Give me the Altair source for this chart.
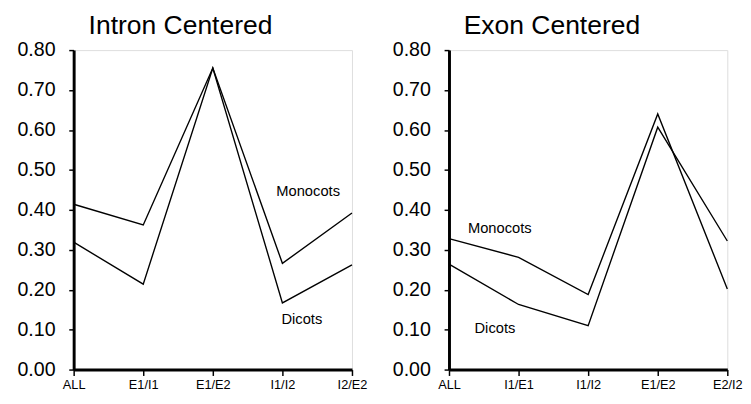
import json
import altair as alt
import pandas as pd

left_cats = ["ALL", "E1/I1", "E1/E2", "I1/I2", "I2/E2"]
left_mono = [0.414, 0.362, 0.755, 0.266, 0.392]
left_dicot = [0.319, 0.214, 0.755, 0.167, 0.262]

right_cats = ["ALL", "I1/E1", "I1/I2", "E1/E2", "E2/I2"]
right_mono = [0.328, 0.281, 0.188, 0.640, 0.202]
right_dicot = [0.264, 0.163, 0.110, 0.607, 0.322]

series_names = ["Monocots", "Dicots"]
left_label_x = [3.37, 3.28]
left_label_y = [0.446, 0.126]
right_label_x = [0.73, 0.66]
right_label_y = [0.355, 0.103]

y_ticks = [0.0, 0.1, 0.2, 0.3, 0.4, 0.5, 0.6, 0.7, 0.8]


def panel(title, title_dx, cats, mono, dicot, lx, ly):
    rows = []
    for i, c in enumerate(cats):
        rows.append({"idx": i, "cat": c, "series": "Monocots", "value": mono[i]})
        rows.append({"idx": i, "cat": c, "series": "Dicots", "value": dicot[i]})
    df = pd.DataFrame(rows)
    lab = pd.DataFrame({"x": lx, "y": ly, "text": series_names})
    expr = json.dumps(cats) + "[datum.value]"
    xs = alt.Scale(domain=[0, len(cats) - 1], nice=False, zero=False)
    ys = alt.Scale(domain=[0, 0.8], nice=False)
    x_axis = alt.Axis(values=list(range(len(cats))), labelExpr=expr, title=None,
                      grid=False, domain=True, domainColor="black", domainWidth=3,
                      tickColor="black", tickWidth=1.5, tickSize=6,
                      labelFontSize=13, labelColor="black", labelFont="Liberation Sans",
                      labelPadding=3, labelFlush=False)
    y_axis = alt.Axis(values=y_ticks, format=".2f", title=None, grid=False,
                      domain=True, domainColor="black", domainWidth=3, tickColor="black",
                      tickWidth=1.5, tickSize=5, labelFontSize=20,
                      labelColor="black", labelFont="Liberation Sans",
                      labelPadding=14)
    lines = alt.Chart(df).mark_line(color="black", strokeWidth=1.4).encode(
        x=alt.X("idx:Q", scale=xs, axis=x_axis),
        y=alt.Y("value:Q", scale=ys, axis=y_axis),
        detail="series:N",
    )
    texts = alt.Chart(lab).mark_text(fontSize=15, font="Liberation Sans", color="black").encode(
        x=alt.X("x:Q", scale=xs, axis=x_axis),
        y=alt.Y("y:Q", scale=ys, axis=y_axis),
        text="text:N",
    )
    return alt.layer(lines, texts).properties(
        width=284, height=326,
        title=alt.TitleParams(title, fontSize=27, font="Liberation Sans", fontWeight="normal",
                              color="black", anchor="middle", frame="group", offset=0,
                              dx=title_dx),
    )


left = panel("Intron Centered", -33, left_cats, left_mono, left_dicot, left_label_x, left_label_y)
right = panel("Exon Centered", -37, right_cats, right_mono, right_dicot, right_label_x, right_label_y)

chart = (
    alt.hconcat(left, right, spacing=24)
    .properties(padding={"left": 8, "top": 0, "right": 0, "bottom": 0})
    .configure_view(stroke=None, strokeWidth=0)
    .configure(background="white")
)
chart.save("out.html", embed_options={"renderer": "svg", "actions": False})
